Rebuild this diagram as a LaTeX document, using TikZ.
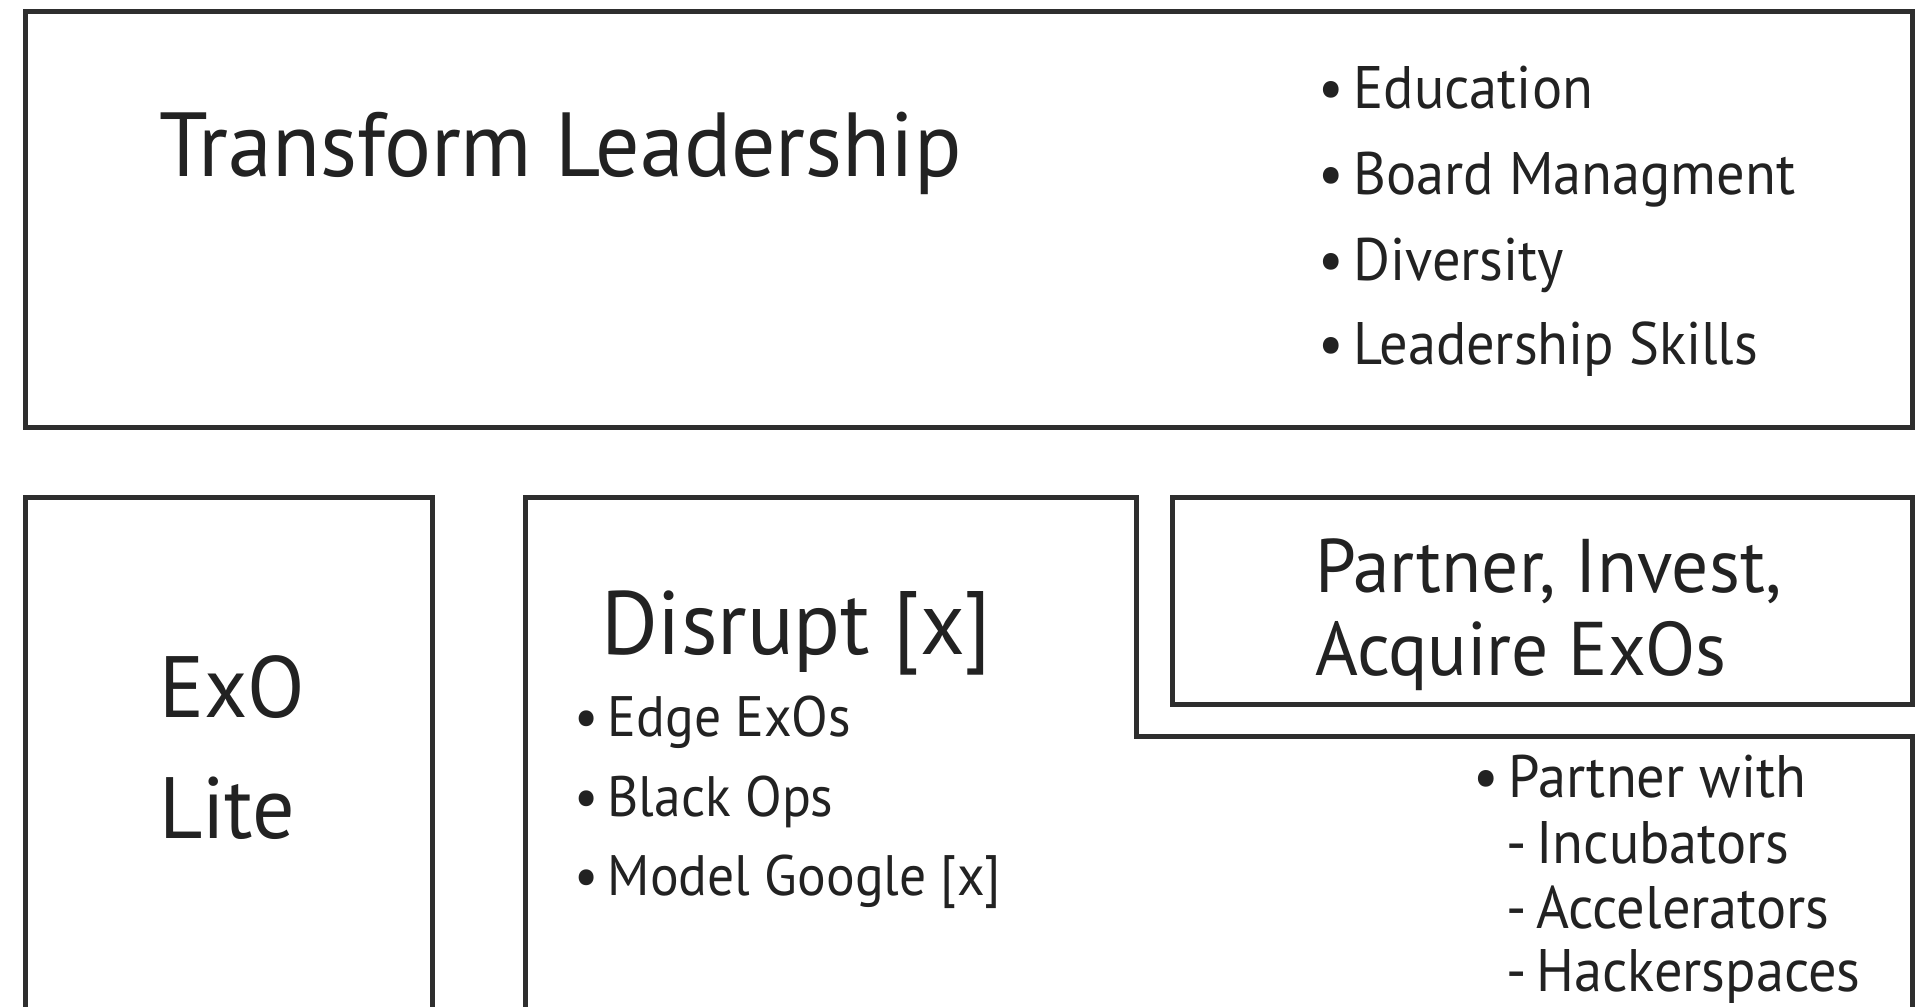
\documentclass[tikz,border=0pt]{standalone}
\usepackage{fontspec}
\setmainfont{PT Sans}[FakeStretch=0.965]
\newfontfamily\narrowfam{PT Sans}[FakeStretch=0.94]
\definecolor{ink}{HTML}{222222}
\definecolor{edge}{HTML}{2E2E2E}
\tikzset{
  frame/.style={draw=edge, line width=5pt, line join=miter},
  txt/.style={anchor=base west, inner sep=0pt, outer sep=0pt, text=ink},
  big/.style={txt, font=\fontsize{91}{100}\selectfont},
  mid/.style={txt, font=\fontsize{80}{90}\selectfont},
  small/.style={txt, font=\narrowfam\fontsize{60}{66}\selectfont},
}
\begin{document}
\begin{tikzpicture}[x=1pt,y=-1pt]
\clip (0,0) rectangle (1923,1007);
\fill[white] (0,0) rectangle (1923,1007);
% boxes
\draw[frame] (25,11) rectangle (1912,427);
\coordinate (exoTL) at (25,497);
\coordinate (exoTR) at (432,497);
\draw[frame] (25,1030) -- (exoTL) -- (exoTR) -- (432,1030);
\coordinate (disTL) at (525,497);
\coordinate (disTR) at (1136,497);
\coordinate (disStep) at (1136,736);
\coordinate (disR) at (1912,736);
\draw[frame] (525,1030) -- (disTL) -- (disTR) -- (disStep) -- (disR) -- (1912,1030);
\draw[frame] (1172,497) rectangle (1912,704);
% top texts
\node[big] (title) at (159,176) {Transform Leadership};
\node[small] (b1) at (1318,108) {•\,Education};
\node[small] (b2) at (1318,194) {•\,Board Managment};
\node[small] (b3) at (1318,280) {•\,Diversity};
\node[small] (b4) at (1318,364) {•\,Leadership Skills};
% ExO Lite
\node[mid, font=\fontsize{87}{90}\selectfont] (exo) at (159,717) {ExO};
\node[mid, font=\fontsize{87}{90}\selectfont] (lite) at (159,838) {Lite};
% Disrupt
\node[big, font=\fontsize{90}{100}\selectfont] (dis) at (601,654) {Disrupt [x]};
\node[small, font=\narrowfam\fontsize{57}{60}\selectfont] (d1) at (574,736) {•\,Edge ExOs};
\node[small, font=\narrowfam\fontsize{57}{60}\selectfont] (d2) at (574,816) {•\,Black Ops};
\node[small, font=\narrowfam\fontsize{57}{60}\selectfont] (d3) at (574,895) {•\,Model Google [x]};
% Partner
\node[mid, font=\fontsize{76}{80}\selectfont] (p1) at (1315,592) {Partner, Invest,};
\node[mid, font=\fontsize{76}{80}\selectfont] (p2) at (1315,675) {Acquire ExOs};
\node[small] (q1) at (1473,797) {•\,Partner with};
\node[small] (q2) at (1506,863) {-\,Incubators};
\node[small] (q3) at (1506,928) {-\,Accelerators};
\node[small] (q4) at (1506,991) {-\,Hackerspaces};
\end{tikzpicture}
\end{document}
